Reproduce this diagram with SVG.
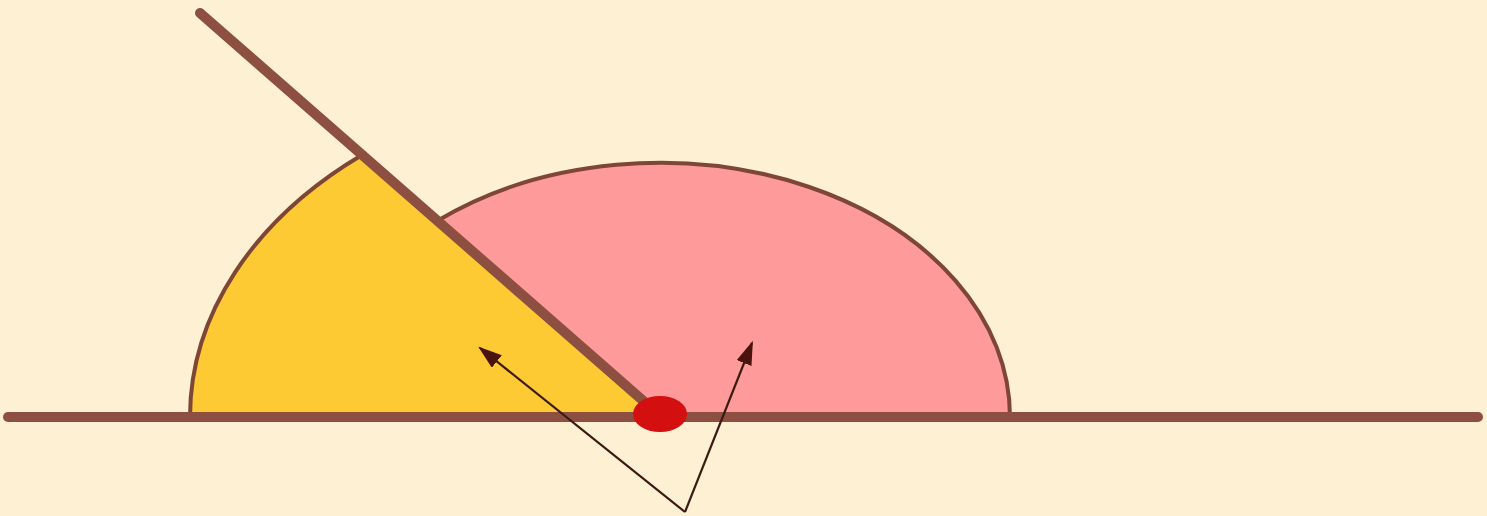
<svg xmlns="http://www.w3.org/2000/svg" width="1487" height="516" viewBox="0 0 1487 516">
<defs>
<style>
.arc{fill:none;stroke:#7E4634;stroke-width:4}
.line{stroke:#8C4F40;stroke-linecap:round;fill:none;stroke-width:10}
.arrow{stroke:#3A1B14;stroke-width:2.2;fill:none;marker-end:url(#ah)}
</style>
<marker id="ah" viewBox="0 0 10 10" refX="9" refY="5" markerWidth="24" markerHeight="16" markerUnits="userSpaceOnUse" orient="auto" preserveAspectRatio="none">
<path d="M0,0 L10,5 L0,10 z" fill="#4A130E"/>
</marker>
</defs>
<rect width="1487" height="516" fill="#FDF0D3"/>
<g id="yellow-sector">
<path d="M660,417 L190,417 A470,339 0 0,1 362,155 Z" fill="#FECA34"/>
<path class="arc" d="M190,417 A470,339 0 0,1 362,155"/>
</g>
<g id="pink-sector">
<path d="M660,417 L437,221 A350,254 0 0,1 1010,417 Z" fill="#FF9A9A"/>
<path class="arc" d="M437,221 A350,254 0 0,1 1010,417"/>
</g>
<g id="lines">
<line class="line" x1="200" y1="13" x2="648" y2="405"/>
<line class="line" x1="8" y1="417" x2="1478" y2="417"/>
</g>
<g id="vertex">
<ellipse cx="660" cy="414" rx="27" ry="18" fill="#D40F10"/>
</g>
<g id="connectors">
<line class="arrow" x1="685" y1="512" x2="480" y2="348"/>
<line class="arrow" x1="685" y1="512" x2="752" y2="343"/>
</g>
</svg>
